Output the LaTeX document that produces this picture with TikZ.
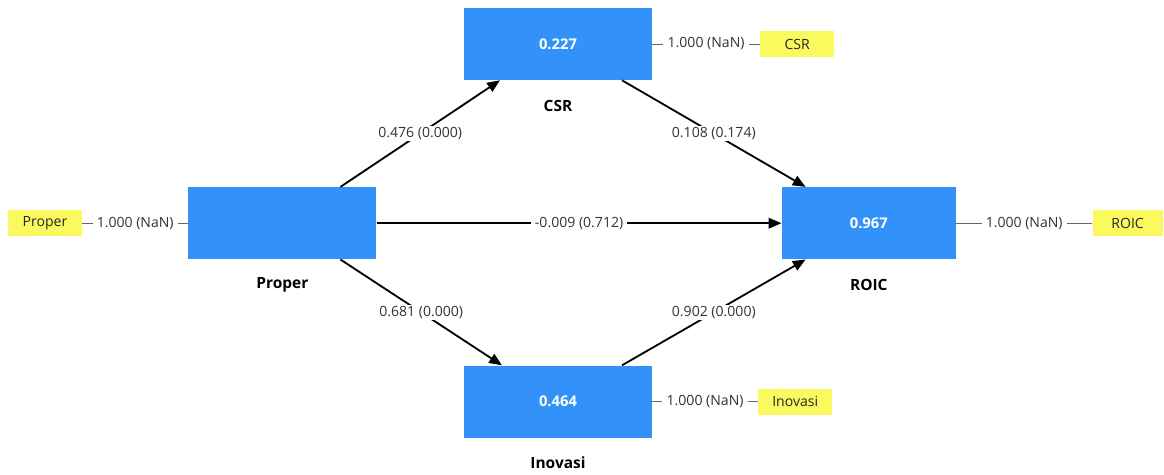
\documentclass[tikz,border=0pt]{standalone}
\usepackage{fontspec}
\setmainfont{Open Sans}
\usepackage{xcolor}
\usetikzlibrary{positioning,arrows.meta,calc}

\definecolor{constructblue}{RGB}{51,146,250}
\definecolor{indyellow}{RGB}{250,250,95}

\tikzset{
  construct/.style={fill=constructblue, minimum width=4.7cm, minimum height=1.8cm,
    text=white, font=\fontsize{10.5}{12}\selectfont\bfseries},
  indicator/.style={fill=indyellow, minimum width=1.85cm, minimum height=0.65cm,
    text=black!85, font=\fontsize{10}{12}\selectfont},
  cname/.style={font=\fontsize{11}{13}\selectfont\bfseries, anchor=center},
  pathline/.style={-{Triangle[length=3.2mm,width=2.6mm]}, line width=1.3pt},
  loading/.style={draw=black!60, line width=0.7pt},
  coef/.style={fill=white, text=black!80, inner xsep=3pt, inner ysep=1pt,
    font=\fontsize{10}{12}\selectfont},
}

\begin{document}
\begin{tikzpicture}
\useasboundingbox (0,0) rectangle (29.1,11.85);

% === Constructs (R^2 inside) ===
\node[construct] (proper) at (7.06,6.27) {};
\node[construct] (csr) at (13.95,10.75) {0.227};
\node[construct, minimum width=4.35cm] (roic) at (21.72,6.27) {0.967};
\node[construct] (inovasi) at (13.95,1.81) {0.464};

% names under the boxes
\node[below=0.63cm of proper.south, cname] (propername) {Proper};
\node[below=0.63cm of csr.south, cname] (csrname) {CSR};
\node[below=0.63cm of roic.south, cname] (roicname) {ROIC};
\node[below=0.63cm of inovasi.south, cname] (inovasiname) {Inovasi};

% === Indicators ===
\node[indicator] (properind) at (1.125,6.27) {Proper};
\node[indicator] (csrind) at (19.93,10.75) {CSR};
\node[indicator] (inovasiind) at (19.88,1.81) {Inovasi};
\node[indicator, minimum width=1.75cm] (roicind) at (28.19,6.27) {ROIC};

% outer loadings
\draw[loading] (properind) -- node[coef] {1.000 (NaN)} (proper);
\draw[loading] (csr) -- node[coef] {1.000 (NaN)} (csrind);
\draw[loading] (inovasi) -- node[coef] {1.000 (NaN)} (inovasiind);
\draw[loading] (roic) -- node[coef] {1.000 (NaN)} (roicind);

% === Path coefficients (p-values) ===
\draw[pathline] ([xshift=1.45cm]proper.north) -- node[coef] {0.476 (0.000)} ([xshift=-1.45cm]csr.south);
\draw[pathline] ([xshift=1.6cm]csr.south) -- node[coef] {0.108 (0.174)} ([xshift=-1.58cm]roic.north);
\draw[pathline] (proper) -- node[coef] {-0.009 (0.712)} (roic);
\draw[pathline] ([xshift=1.45cm]proper.south) -- node[coef] {0.681 (0.000)} ([xshift=-1.4cm]inovasi.north);
\draw[pathline] ([xshift=1.6cm]inovasi.north) -- node[coef] {0.902 (0.000)} ([xshift=-1.58cm]roic.south);

\end{tikzpicture}
\end{document}
